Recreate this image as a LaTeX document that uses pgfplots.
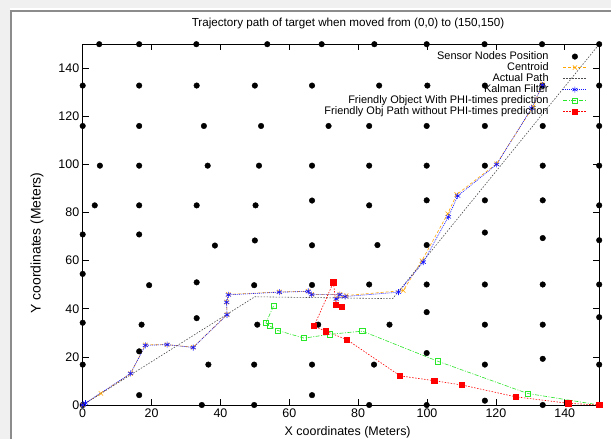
\documentclass[border=0pt]{standalone}
\usepackage{fontspec}
\setmainfont{Liberation Sans}
\usepackage{pgfplots}
\pgfplotsset{compat=1.18}
\definecolor{gporange}{RGB}{255,165,0}
\definecolor{gpgreen}{RGB}{40,230,40}
\definecolor{gpblue}{RGB}{20,20,255}
\definecolor{gpred}{RGB}{255,0,0}
\begin{document}
\begin{tikzpicture}
\useasboundingbox (0,0) rectangle (611bp,439bp);
\fill[white] (0,0) rectangle (611bp,439bp);
\fill[black!6] (0,0) rectangle (10bp,439bp);
\fill[black!6] (0,431bp) rectangle (611bp,439bp);
\draw[black!45,line width=1.2bp] (11bp,0) -- (11bp,428bp) -- (611bp,428bp);
\begin{axis}[
  at={(82.7bp,34bp)}, anchor=south west,
  scale only axis, width=516.5bp, height=360.8bp,
  xmin=0, xmax=150, ymin=0, ymax=150,
  xtick={0,20,...,140}, ytick={0,20,...,140},
  tick align=inside, major tick length=6bp,
  tick style={black, line width=0.6pt},
  axis line style={line width=0.8pt},
  clip=false,
  font=\fontsize{12.5}{14}\selectfont,
  tick label style={font=\fontsize{12.5}{14}\selectfont},
  /pgf/number format/assume math mode=true,
  every axis title shift=0pt,
  title={Trajectory path of target when moved from (0,0) to (150,150)},
  title style={at={(axis description cs:0.5137,1.058)}, anchor=center, font=\fontsize{11.7}{14}\selectfont},
  xlabel={X coordinates (Meters)},
  ylabel={Y coordinates (Meters)},
  xlabel style={at={(axis description cs:0.513,-0.075)}, anchor=center},
  ylabel style={at={(axis description cs:-0.0885,0.449)}, anchor=center, rotate=0, font=\fontsize{14}{16}\selectfont},
  legend style={at={(axis description cs:0.982,0.987)}, anchor=north east, draw=none, fill=none,
    font=\fontsize{11}{13}\selectfont, row sep=0pt, column sep=14bp,
    nodes={inner sep=0.5bp, text height=8bp, text depth=2bp}},
  legend cell align=right,
  legend plot pos=right,
  legend image code/.code={\draw[mark repeat=2,mark phase=2] plot coordinates {(0bp,0bp) (11.5bp,0bp) (23bp,0bp)};},
]
\addplot[only marks, mark=*, mark size=2.8bp, black] coordinates {
(4.8,150) (16.4,150) (33.0,150) (53.6,150) (69.4,150) (84.7,150) (99.9,150) (116.7,150) (133.4,150) (150,150)
(0,132.8) (16.4,132.8) (33.1,132.8) (50,132.8) (66.6,132.8) (86.1,132.8) (100.1,132.8) (116.8,132.8) (133.5,132.8) (150,132.8)
(0,116) (16.4,116) (35.2,116) (51.8,116) (71.4,116) (83.2,116) (99.9,116) (116.8,116) (133.6,116) (150,116)
(5,99.5) (16.4,99.5) (36.3,99.5) (51.2,99.5) (66.6,99.5) (83.2,99.5) (99.9,99.5) (116.8,99.5) (133.6,99.5) (150,99.5)
(3.5,83) (16.4,83) (33.1,83) (50.2,83) (66.6,85) (83.2,83) (99.9,85.1) (116.8,85.1) (133.6,85.1) (150,83)
(0,70.9) (16.4,70.9) (38.4,66.3) (50,68.4) (66.6,66.4) (85.6,66.5) (99.9,66.5) (116.8,71.7) (133.6,69.4) (150,68.5)
(0,54.5) (19.3,49.8) (33.1,51) (49.8,49.8) (66.6,49.9) (83.2,50.1) (99.9,50.1) (116.8,50.1) (133.6,50.1) (150,50.1)
(0,34.2) (17.1,33.4) (33.1,36.1) (50.7,33.4) (68.4,33.4) (89.1,33.4) (99.9,38.6) (116.8,33.4) (133.6,33.4) (150,36.5)
(0,16.8) (16.4,22.3) (36.5,16.8) (49.8,16.8) (66.6,16.8) (84.6,16.8) (99.9,21.6) (116.8,16.8) (133.6,19.2) (150,16.8)
(0,0) (16.4,4.1) (34.6,0) (49.8,0) (66.6,4.1) (83.2,0) (99.9,0) (116.8,1.8) (133.6,0) (150,0)
};
\addlegendentry{Sensor Nodes Position}
\addplot[gporange, line width=0.6pt, dash pattern=on 3pt off 2pt, mark=x, mark size=3bp, mark options={solid}] coordinates {
(0,0) (5.3,4.8) (13.9,13.1) (18.2,25.0) (24.5,25.1) (32.1,24.0) (41.9,37.6) (41.8,42.8) (42.3,46.0) (57.1,47.0) (65.5,47.3) (66.5,46.0) (74.7,46.0) (73.6,44.2) (76.5,45.5) (93.1,47.6) (98.5,60.0) (106.0,79.5) (108.6,87.5) (120.2,100.3) (130.8,124.0) (133.5,133.5)
};
\addlegendentry{Centroid}
\addplot[black!70, line width=0.6pt, dash pattern=on 1.5pt off 1.5pt] coordinates {
(0,0) (50,45) (90,44.2) (150,150)
};
\addlegendentry{Actual Path}
\addplot[gpblue, line width=0.6pt, dash pattern=on 1pt off 1pt, mark=asterisk, mark size=3bp, mark options={solid}] coordinates {
(0,0) (0.8,0.8) (13.9,13.1) (18.2,24.8) (24.5,25.1) (32.1,23.9) (41.9,37.5) (41.8,42.7) (42.3,45.8) (57.1,46.9) (65.5,47.2) (66.5,45.9) (74.7,45.9) (73.6,44.1) (76.2,45.1) (91.7,46.9) (98.9,59.4) (106.2,78.2) (108.9,86.9) (120.2,100.0) (130.4,123.4) (133.5,133.0)
};
\addlegendentry{Kalman Filter}
\addplot[gpgreen, line width=0.6pt, dash pattern=on 4pt off 1.5pt on 1pt off 1.5pt, mark=square, mark size=2.6bp, mark options={solid}] coordinates {
(55.4,41.1) (53.2,34.1) (54.4,32.8) (56.6,31.0) (64.3,27.8) (71.8,29.4) (81.2,30.7) (103.1,18.2) (129.2,4.8) (150,0)
};
\addlegendentry{Friendly Object With PHI-times prediction}
\addplot[gpred, line width=0.6pt, dash pattern=on 1.5pt off 1.5pt, mark=square*, mark size=2.6bp, mark options={solid}] coordinates {
(75.2,40.7) (73.6,41.8) (72.8,51.0) (67.2,32.8) (70.7,30.6) (76.7,27.2) (92.2,12.1) (102.1,10.1) (110.2,8.3) (125.8,3.4) (141,0.7) (150,0)
};
\addlegendentry{Friendly Obj Path without PHI-times prediction}
\end{axis}
\end{tikzpicture}
\end{document}
